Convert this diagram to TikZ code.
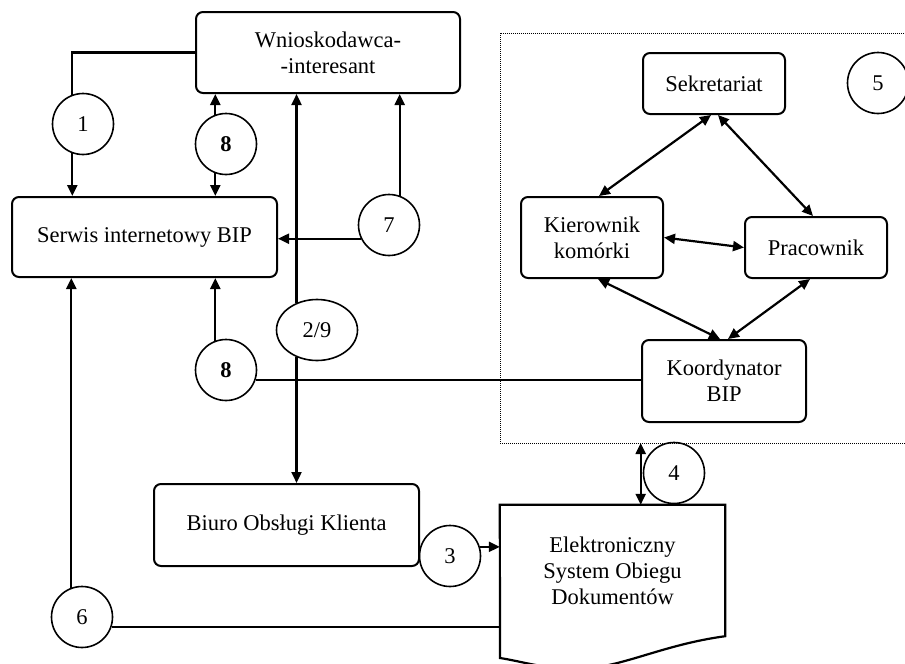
\documentclass[tikz,border=0pt]{standalone}
\usepackage{fontspec}
\setmainfont{Liberation Serif}
\usetikzlibrary{arrows.meta,shapes.geometric}
\begin{document}
\begin{tikzpicture}[x=1pt, y=-1pt,
    txt/.style={font=\fontsize{22.5}{26}\selectfont, align=center},
    box/.style={txt, draw, line width=2pt, rounded corners=7pt},
    num/.style={txt, draw, circle, line width=1.6pt, minimum size=61pt, inner sep=0pt},
    line/.style={line width=2.2pt},
    arr/.style={line, -{Triangle[length=11pt,width=10pt]}},
    darr/.style={line, {Triangle[length=11pt,width=10pt]}-{Triangle[length=11pt,width=10pt]}}]
    \useasboundingbox (0,0) rectangle (905,664);

    % boxes
    \node[box, minimum width=264pt, minimum height=81pt] (wn) at (328,52.5) {Wnioskodawca-\\-interesant};
    \node[box, minimum width=265pt, minimum height=80pt] (serwis) at (144.5,237) {Serwis internetowy BIP};
    \node[box, minimum width=265pt, minimum height=82pt] (biuro) at (286.5,525) {Biuro Obsługi Klienta};
    \node[box, minimum width=142pt, minimum height=61pt] (sek) at (714,83.5) {Sekretariat};
    \node[box, minimum width=142pt, minimum height=81pt] (kier) at (592,237.5) {Kierownik\\komórki};
    \node[box, minimum width=142pt, minimum height=61pt] (prac) at (816,247.5) {Pracownik};
    \node[box, minimum width=164pt, minimum height=82pt] (koord) at (724,381) {Koordynator\\BIP};
    \node[txt, minimum width=225pt, minimum height=131pt] (esod) at (612.5,570.5) {Elektroniczny\\System Obiegu\\Dokumentów};
    \draw[line] (esod.north west) -- (esod.north east) -- (esod.south east)
        .. controls (660,645) and (620,669) .. (575,669)
        .. controls (545,669) and (520,661) .. (500,658) -- cycle;

    % group 5
    \draw[densely dotted, line width=1pt] (500,33) rectangle (912,443);
    \coordinate (g5) at (500,443);

    % numbers
    \node[num] (c1) at (83,124) {1};
    \node[num] (c8a) at (226,144) {\bfseries 8};
    \node[num] (c7) at (389,225) {7};
    \node[num, ellipse, minimum width=81pt] (c29) at (317,330) {2/9};
    \node[num] (c8b) at (226,370) {\bfseries 8};
    \node[num] (c6) at (82,617) {6};
    \node[num] (c3) at (450,556) {3};
    \node[num] (c4) at (674,473) {4};
    \node[num] (c5) at (878,83) {5};

    \draw[line] (wn.west) -| (c1.110);
    \draw[arr] (c1.250) -- (c1.250 |- serwis.north);
    \draw[arr] (c8a.110) -- (c8a.110 |- wn.south);
    \draw[arr] (c8a.250) -- (c8a.250 |- serwis.north);
    \draw[arr] (c7.70) -- (c7.70 |- wn.south);
    \draw[arr] (c7.206) -- (c7.206 -| serwis.east);
    \draw[arr] (c29.127) -- (c29.127 |- wn.south);
    \draw[arr] (c29.233) -- (c29.233 |- biuro.north);
    \draw[arr] (c8b.110) -- (c8b.110 |- serwis.south);
    \draw[line] (c8b.-19) -- (c8b.-19 -| koord.west);
    \draw[arr] (c6.110) -- (c6.110 |- serwis.south);
    \draw[line] (c6.-19) -- (c6.-19 -| esod.west);
    \draw[arr] (c3.17) -- (c3.17 -| esod.west);
    \draw[darr] ([xshift=-2pt]c4.west |- g5) -- ([xshift=-2pt]c4.west |- esod.north);

    \draw[darr] ([xshift=-3pt]sek.south) -- ([xshift=7pt]kier.north);
    \draw[darr] ([xshift=4pt]sek.south) -- ([xshift=-3pt]prac.north);
    \draw[darr] (kier.east) -- (prac.west);
    \draw[darr] ([xshift=6pt]kier.south) -- ([xshift=-4pt]koord.north);
    \draw[darr] ([xshift=-6pt]prac.south) -- ([xshift=4pt]koord.north);
\end{tikzpicture}
\end{document}
